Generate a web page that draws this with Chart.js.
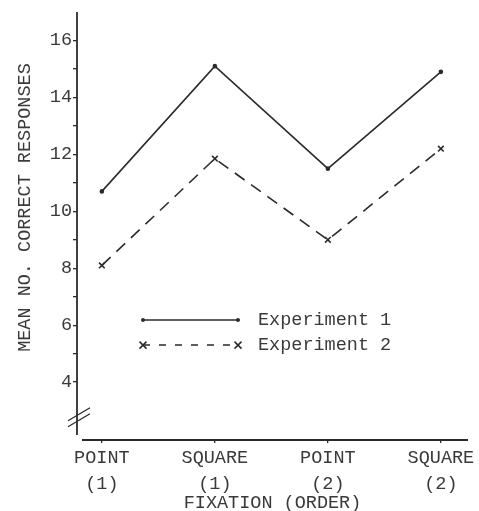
<!DOCTYPE html>
<html>
<head>
<meta charset="utf-8">
<script src="https://cdn.jsdelivr.net/npm/chart.js@4"></script>
<style>
html, body { margin: 0; padding: 0; background: #fff; }
</style>
</head>
<body>
<canvas id="grafica" width="479" height="511"></canvas>
<script>
// datos
const categorias = [['POINT', '(1)'], ['SQUARE', '(1)'], ['POINT', '(2)'], ['SQUARE', '(2)']];
const experimento1 = [10.7, 15.1, 11.5, 14.9];
const experimento2 = [8.1, 11.85, 9.0, 12.2];
const yEtiquetas = [4, 6, 8, 10, 12, 14, 16];
const nombres = ['Experiment 1', 'Experiment 2'];
const tituloX = 'FIXATION (ORDER)';
const tituloY = 'MEAN NO. CORRECT RESPONSES';

const tinta = '#2b2b2b';
const texto = '#3a3a3a';
const fuente = "'Liberation Mono', 'DejaVu Sans Mono', monospace";

const aPuntos = serie => serie.map((v, i) => ({x: i + 1, y: v}));

// ejes a mano (con el corte en el eje y), titulo vertical y leyenda
const ejes = {
    id: 'ejes',
    afterDraw(chart) {
        const {ctx, chartArea: a, scales: {y}} = chart;
        ctx.save();
        ctx.strokeStyle = tinta;
        ctx.lineWidth = 1.8;
        ctx.beginPath();
        ctx.moveTo(a.left, a.top);
        ctx.lineTo(a.left, a.bottom - 4);
        ctx.stroke();
        ctx.beginPath();
        ctx.moveTo(a.left + 5, a.bottom + 1);
        ctx.lineTo(a.right, a.bottom + 1);
        ctx.stroke();

        // corte //
        ctx.lineWidth = 1.3;
        const yb = y.getPixelForValue(2.78);
        for (const d of [-3, 3]) {
            ctx.beginPath();
            ctx.moveTo(a.left - 9, yb + 7 + d);
            ctx.lineTo(a.left + 13, yb - 6 + d);
            ctx.stroke();
        }

        // titulo eje y
        ctx.fillStyle = texto;
        ctx.font = '18.5px ' + fuente;
        ctx.textAlign = 'center';
        ctx.textBaseline = 'middle';
        ctx.save();
        ctx.translate(25, (a.top + a.bottom) / 2 - 18);
        ctx.rotate(-Math.PI / 2);
        ctx.fillText(tituloY, 0, 0);
        ctx.restore();

        // leyenda
        const lx0 = a.left + 66, lx1 = a.left + 161, ly = a.top + 308;
        ctx.lineWidth = 1.5;
        ctx.beginPath();
        ctx.moveTo(lx0, ly);
        ctx.lineTo(lx1, ly);
        ctx.stroke();
        ctx.fillStyle = tinta;
        for (const px of [lx0, lx1]) {
            ctx.beginPath();
            ctx.arc(px, ly, 2, 0, Math.PI * 2);
            ctx.fill();
        }
        ctx.setLineDash([7, 9]);
        ctx.beginPath();
        ctx.moveTo(lx0, ly + 25);
        ctx.lineTo(lx1, ly + 25);
        ctx.stroke();
        ctx.setLineDash([]);
        for (const px of [lx0, lx1]) {
            ctx.beginPath();
            ctx.moveTo(px - 3.5, ly + 25 - 3.5);
            ctx.lineTo(px + 3.5, ly + 25 + 3.5);
            ctx.moveTo(px - 3.5, ly + 25 + 3.5);
            ctx.lineTo(px + 3.5, ly + 25 - 3.5);
            ctx.stroke();
        }
        ctx.fillStyle = texto;
        ctx.textAlign = 'left';
        ctx.fillText(nombres[0], lx1 + 20, ly);
        ctx.fillText(nombres[1], lx1 + 20, ly + 25);
        ctx.restore();
    }
};

const g1 = new Chart('grafica', {
    type: 'line',
    data: {
        datasets: [{
            label: nombres[0],
            data: aPuntos(experimento1),
            borderColor: tinta,
            borderWidth: 1.6,
            pointStyle: 'circle',
            pointRadius: 1.5,
            pointBackgroundColor: tinta,
            pointBorderColor: tinta,
            tension: 0
        }, {
            label: nombres[1],
            data: aPuntos(experimento2),
            borderColor: tinta,
            borderWidth: 1.6,
            borderDash: [12, 8],
            pointStyle: 'crossRot',
            pointRadius: 4,
            pointBorderWidth: 1.6,
            pointBorderColor: tinta,
            tension: 0
        }]
    },
    options: {
        responsive: false,
        animation: false,
        layout: {padding: {left: 0, right: 11, top: 10, bottom: 0}},
        plugins: {
            legend: {display: false},
            tooltip: {enabled: false}
        },
        scales: {
            x: {
                type: 'linear',
                min: 0.78,
                max: 4.24,
                afterBuildTicks: s => { s.ticks = categorias.map((c, i) => ({value: i + 1})); },
                afterFit: s => { s.height = 72; },
                border: {display: false},
                grid: {drawOnChartArea: false, drawTicks: true, tickLength: 4, color: tinta, lineWidth: 1.3},
                ticks: {
                    callback: v => categorias[v - 1],
                    color: texto,
                    font: {family: fuente, size: 18.5, lineHeight: 1.4},
                    padding: 2,
                    maxRotation: 0,
                    autoSkip: false
                },
                title: {
                    display: true,
                    text: tituloX,
                    color: texto,
                    font: {family: fuente, size: 18.5, lineHeight: 0.9},
                    padding: 0
                }
            },
            y: {
                min: 2,
                max: 17,
                afterFit: s => { s.width = 77; },
                border: {display: false},
                grid: {
                    drawOnChartArea: false,
                    drawTicks: true,
                    tickLength: 4,
                    lineWidth: 1.3,
                    color: c => (c.tick && c.tick.value >= 4 && c.tick.value <= 16) ? tinta : 'rgba(0,0,0,0)'
                },
                ticks: {
                    stepSize: 1,
                    autoSkip: false,
                    callback: v => yEtiquetas.includes(v) ? String(v) : '',
                    color: texto,
                    font: {family: fuente, size: 18.5},
                    padding: 1
                }
            }
        }
    },
    plugins: [ejes]
});
</script>
</body>
</html>
